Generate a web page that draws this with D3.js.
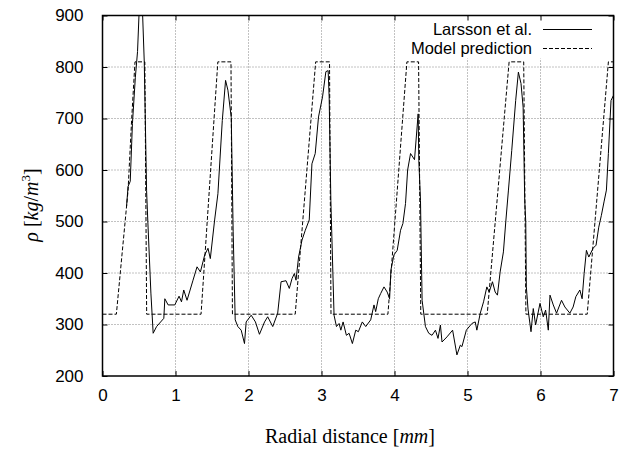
<!DOCTYPE html>
<html><head><meta charset="utf-8">
<script src="https://cdn.jsdelivr.net/npm/d3@7"></script>
<style>body{margin:0;background:#fff}svg{display:block}</style>
</head><body>
<svg id="c" width="630" height="456"></svg>
<script>
const xTicks = [0,1,2,3,4,5,6,7];
const yTicks = [200,300,400,500,600,700,800,900];
const seriesNames = ["Larsson et al.", "Model prediction"];

const larssonX = [0.33,0.35,0.38,0.41,0.45,0.48,0.525,0.55,0.572,0.604,0.622,0.663,0.694,0.741,0.840,0.854,0.899,0.990,1.049,1.082,1.113,1.158,1.240,1.295,1.341,1.400,1.445,1.477,1.536,1.581,1.641,1.686,1.718,1.764,1.79,1.818,1.854,1.900,1.945,1.968,2.037,2.095,2.150,2.22,2.263,2.332,2.400,2.446,2.514,2.559,2.596,2.628,2.651,2.686,2.733,2.778,2.832,2.869,2.914,2.959,3.014,3.060,3.091,3.105,3.128,3.172,3.205,3.241,3.265,3.296,3.341,3.378,3.423,3.469,3.505,3.559,3.606,3.674,3.719,3.742,3.778,3.810,3.856,3.900,3.933,3.951,3.992,4.037,4.083,4.115,4.151,4.18,4.220,4.274,4.324,4.333,4.356,4.378,4.424,4.469,4.514,4.561,4.596,4.629,4.651,4.719,4.796,4.855,4.902,4.924,4.984,5.060,5.106,5.128,5.175,5.220,5.265,5.297,5.342,5.379,5.41,5.447,5.492,5.524,5.561,5.606,5.660,5.697,5.733,5.762,5.784,5.798,5.806,5.829,5.870,5.901,5.933,5.993,6.038,6.070,6.107,6.130,6.175,6.220,6.288,6.334,6.402,6.447,6.484,6.539,6.570,6.598,6.629,6.662,6.720,6.761,6.798,6.834,6.870,6.903,6.93,6.966,7.0];
const larssonY = [530,568,578,690,780,830,990,900,810,560,497,361,283,296,312,350,338,338,355,344,367,347,386,412,402,435,448,428,503,554,696,774,755,702,480,309,296,289,263,305,318,305,281,305,315,296,322,383,385,370,389,399,386,431,464,483,503,612,632,703,742,791,793,742,541,318,296,302,289,305,279,283,263,289,286,305,296,309,338,325,350,360,373,363,350,406,435,444,483,496,535,600,632,620,709,619,541,347,296,283,279,289,273,299,266,276,289,241,260,257,289,302,305,289,322,344,373,363,383,363,357,402,441,499,561,638,735,790,768,722,541,499,373,330,286,331,299,341,315,328,289,357,338,322,347,334,322,334,354,367,350,399,444,431,448,454,489,512,538,561,632,735,745];

const modelX = [0,0.19,0.35,0.40,0.445,0.58,0.605,1.35,1.58,1.76,1.78,2.64,2.92,3.11,3.13,3.91,4.17,4.33,4.36,5.27,5.57,5.77,5.80,6.64,6.93,7.0];
const modelY = [320,320,560,700,810,810,320,320,810,810,320,320,810,810,320,320,810,810,320,320,810,810,320,320,810,810];

const svg = d3.select("#c");
const L = 102.5, R = 613.5, T = 15.5, B = 376;
const x = d3.scaleLinear().domain([0,7]).range([L,R]);
const y = d3.scaleLinear().domain([200,900]).range([B,T]);

svg.append("rect").attr("width",630).attr("height",456).attr("fill","#fff");

// grid
const grid = svg.append("g").attr("stroke","#666").attr("stroke-width",0.8).attr("stroke-dasharray","1,2");
grid.selectAll(".gx").data(xTicks.slice(1,-1)).join("line").attr("class","gx")
  .attr("x1",d=>x(d)).attr("x2",d=>x(d)).attr("y1",T).attr("y2",B);
grid.selectAll(".gy").data(yTicks.slice(1,-1)).join("line").attr("class","gy")
  .attr("x1",L).attr("x2",R).attr("y1",d=>y(d)).attr("y2",d=>y(d));

// clip
svg.append("clipPath").attr("id","clip").append("rect")
  .attr("x",L).attr("y",T).attr("width",R-L).attr("height",B-T);

const line = d3.line().x(d=>x(d[0])).y(d=>y(d[1]));
const modelData = modelX.map((v,i)=>[v,modelY[i]]);
const larssonData = larssonX.map((v,i)=>[v,larssonY[i]]);

svg.append("path").datum(modelData).attr("d",line).attr("clip-path","url(#clip)")
  .attr("fill","none").attr("stroke","#000").attr("stroke-width",1).attr("stroke-dasharray","4,2");
svg.append("path").datum(larssonData).attr("d",line).attr("clip-path","url(#clip)")
  .attr("fill","none").attr("stroke","#000").attr("stroke-width",1);

// legend box
svg.append("rect").attr("x",395).attr("y",T+1).attr("width",R-395-1).attr("height",42).attr("fill","#fff");
const lg = svg.append("g").attr("font-family","'Liberation Sans', Arial, sans-serif").attr("font-size",16.5);
[0,1].forEach(i=>{
  const yy = 29.5 + i*19;
  lg.append("text").attr("x",532).attr("y",yy).attr("dy","0.35em").attr("text-anchor","end").text(seriesNames[i]);
  lg.append("line").attr("x1",543).attr("x2",592).attr("y1",yy).attr("y2",yy)
    .attr("stroke","#000").attr("stroke-width",1).attr("stroke-dasharray", i===1?"4,2":null);
});

// axes
const ax = svg.append("g").attr("font-family","'Liberation Sans', Arial, sans-serif");
ax.append("g").attr("transform",`translate(0,${B})`)
  .call(d3.axisBottom(x).tickValues(xTicks).tickSize(-5).tickPadding(13).tickFormat(d3.format("d")));
ax.append("g").attr("transform",`translate(0,${T})`)
  .call(d3.axisTop(x).tickValues(xTicks).tickSize(-5).tickFormat(""));
ax.append("g").attr("transform",`translate(${L},0)`)
  .call(d3.axisLeft(y).tickValues(yTicks).tickSize(-5).tickPadding(19).tickFormat(d3.format("d")));
ax.append("g").attr("transform",`translate(${R},0)`)
  .call(d3.axisRight(y).tickValues(yTicks).tickSize(-5).tickFormat(""));
ax.selectAll(".domain").remove();
ax.selectAll(".tick line").attr("stroke","#000").attr("stroke-width",1);
ax.selectAll(".tick text").attr("fill","#000").attr("font-size",17).attr("font-family","'Liberation Sans', Arial, sans-serif");

svg.append("rect").attr("x",L).attr("y",T).attr("width",R-L).attr("height",B-T)
  .attr("fill","none").attr("stroke","#000").attr("stroke-width",1.5);

// titles
svg.append("text").attr("x",350).attr("y",443).attr("text-anchor","middle")
  .attr("font-family","'Liberation Serif', 'Times New Roman', serif").attr("font-size",20)
  .call(t=>{t.append("tspan").text("Radial distance [");t.append("tspan").attr("font-style","italic").text("mm");t.append("tspan").text("]");});
const yt = svg.append("text").attr("transform","translate(38,205) rotate(-90)").attr("text-anchor","middle")
  .attr("font-family","'Liberation Serif', 'Times New Roman', serif").attr("font-size",20);
yt.append("tspan").attr("font-style","italic").text("ρ");
yt.append("tspan").text(" [");
yt.append("tspan").attr("font-style","italic").text("kg");
yt.append("tspan").text("/");
yt.append("tspan").attr("font-style","italic").text("m");
yt.append("tspan").attr("font-size",13).attr("dy","-8").text("3");
yt.append("tspan").attr("dy","8").text("]");
</script>
</body></html>
